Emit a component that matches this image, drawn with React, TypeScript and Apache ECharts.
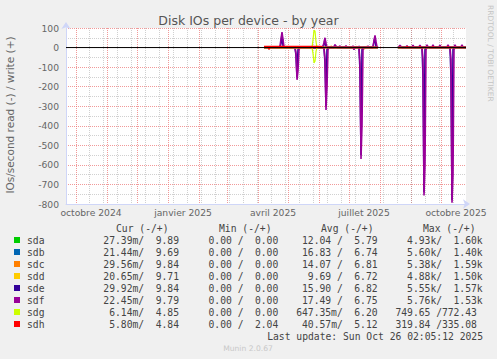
import React, { useEffect, useRef } from "react";
import * as echarts from "echarts";

const DAY_MS = 86400000;
const START = Date.parse("2024-09-21");
const END = START + 400 * DAY_MS;

const devices = ["sda", "sdb", "sdc", "sdd", "sde", "sdf", "sdg", "sdh"];
const deviceColors = ["#00CC00", "#0066B3", "#FF8000", "#FFCC00", "#330099", "#990099", "#CCFF00", "#FF0000"];

// Points: [days since 2024-09-21, IOs/second]; null = no data (line break)
const sdaWrite = [[198, 1], [255, 1], [268, 1], [269, 6], [271, 1], [286, 1], [287, 5], [289, 1], [312, 1], [313, null], [332, 1], [346, 1], [347, 5], [349, 1], [373, 1], [374, 5], [376, 1], [400, 1]];
const sdaRead = [[198, 0], [312, 0], [313, null], [332, 0], [400, 0]];
const sdbWrite = [[198, 1], [255, 1], [273, 1], [274, 5], [276, 1], [292, 1], [293, 6], [295, 1], [312, 1], [313, null], [332, 1], [340, 1], [341, 6], [343, 1], [360, 1], [361, 6], [363, 1], [381, 1], [382, 6], [384, 1], [400, 1]];
const sdbRead = [[198, 0], [312, 0], [313, null], [332, 0], [400, 0]];
const sdcWrite = [[198, 1], [255, 1], [264, 1], [265, 8], [267, 1], [279, 1], [280, 6], [282, 1], [299, 1], [300, 6], [302, 1], [312, 1], [313, null], [332, 1], [353, 1], [354, 7], [356, 1], [388, 1], [389, 7], [391, 1], [400, 1]];
const sdcRead = [[198, 0], [297, 0], [298, 8], [299, 0], [312, 0], [313, null], [332, 0], [400, 0]];
const sddWrite = [[198, 1], [255, 1], [261, 1], [262, 6], [264, 1], [289, 1], [290, 6], [292, 1], [312, 1], [313, null], [332, 1], [366, 1], [367, 6], [369, 1], [395, 1], [396, 6], [398, 1], [400, 1]];
const sddRead = [[198, 0], [312, 0], [313, null], [332, 0], [400, 0]];
const sdeWrite = [[198, 1], [214, 1], [215, 20], [216, 70], [217, 10], [218, 1], [257, 1], [258, 15], [259, 45], [260, 5], [262, 1], [268, 1], [269, 12], [271, 1], [307, 1], [308, 30], [309, 55], [310, 5], [312, 1], [313, null], [332, 1], [333, 2], [334, 8], [336, 1], [360, 1], [361, 8], [363, 1], [400, 1]];
const sdeRead = [[198, 0], [229, 0], [230, 40], [231, 150], [232, 10], [233, 0], [258, 0], [259, 80], [260, 300], [261, 10], [262, 0], [293, 0], [294, 120], [295, 550], [296, 10], [297, 0], [312, 0], [313, null], [332, 0], [356, 0], [357, 150], [358, 740], [359, 10], [360, 0], [384, 0], [385, 150], [386, 780], [387, 10], [388, 0], [400, 0]];
const sdfWrite = [[198, 1], [213, 1], [214, 8], [215, 45], [216, 79], [217, 40], [218, 4], [220, 1], [255, 1], [257, 8], [258, 25], [259, 50], [260, 20], [261, 3], [263, 1], [268, 4], [269, 15], [270, 5], [272, 1], [274, 8], [275, 2], [279, 3], [280, 10], [281, 2], [286, 2], [287, 8], [288, 2], [292, 2], [293, 6], [294, 1], [301, 2], [302, 7], [303, 2], [307, 4], [308, 35], [309, 62], [310, 30], [311, 4], [312, 1], [313, null], [332, 1], [333, 5], [334, 12], [335, 4], [336, 1], [340, 3], [341, 10], [342, 2], [346, 3], [347, 12], [348, 2], [353, 4], [354, 12], [355, 2], [360, 4], [361, 14], [362, 2], [366, 4], [367, 14], [368, 2], [373, 4], [374, 12], [375, 2], [381, 4], [382, 14], [383, 2], [388, 4], [389, 14], [390, 2], [395, 4], [396, 14], [397, 2], [400, 1]];
const sdfRead = [[198, 0], [229, 0], [230, 30], [231, 165], [232, 120], [233, 10], [234, 0], [258, 0], [259, 60], [260, 319], [261, 200], [262, 10], [263, 0], [287, 0], [288, 10], [289, 0], [293, 0], [294, 80], [295, 570], [296, 400], [297, 10], [298, 0], [312, 0], [313, null], [332, 0], [356, 0], [357, 60], [358, 757], [359, 600], [360, 10], [361, 0], [384, 0], [385, 60], [386, 793], [387, 650], [388, 10], [389, 0], [400, 0]];
const sdgWrite = [[198, 0], [246, 0], [247, 40], [248, 88], [249, 85], [250, 30], [251, 0], [255, 1], [312, 1], [313, null], [332, 1], [400, 1]];
const sdgRead = [[198, 0], [246, 0], [247, 30], [248, 78], [249, 70], [250, 20], [251, 0], [312, 0], [313, null], [332, 0], [400, 0]];
const sdhWrite = [[198, 6], [255, 6], [257, 0.5], [312, 0.5], [313, null], [332, 0.5], [340, 0.5], [341, 5], [343, 0.5], [353, 0.5], [354, 4], [356, 0.5], [366, 0.5], [367, 4], [369, 0.5], [381, 0.5], [382, 4], [384, 0.5], [400, 0.5]];
const sdhRead = [[198, 0], [202, 0], [203, 10], [204, 0], [312, 0], [313, null], [332, 0], [400, 0]];

const writeData = [sdaWrite, sdbWrite, sdcWrite, sddWrite, sdeWrite, sdfWrite, sdgWrite, sdhWrite];
const readData = [sdaRead, sdbRead, sdcRead, sddRead, sdeRead, sdfRead, sdgRead, sdhRead];

// Axis ticks / labels
const monthStarts = ["2024-10-01", "2024-11-01", "2024-12-01", "2025-01-01", "2025-02-01", "2025-03-01", "2025-04-01", "2025-05-01", "2025-06-01", "2025-07-01", "2025-08-01", "2025-09-01", "2025-10-01"];
const xLabelDates = ["2024-10-16", "2025-01-16", "2025-04-16", "2025-07-16", "2025-10-16"];
const xLabelTexts = ["octobre 2024", "janvier 2025", "avril 2025", "juillet 2025", "octobre 2025"];
const minorGridFirst = "2024-10-14";
const minorGridStepDays = 14;

// Legend table
const curRead = ["27.39m", "21.44m", "29.56m", "20.65m", "29.92m", "22.45m", "6.14m", "5.80m"];
const curWrite = ["9.89", "9.69", "9.84", "9.71", "9.84", "9.79", "4.85", "4.84"];
const minRead = ["0.00", "0.00", "0.00", "0.00", "0.00", "0.00", "0.00", "0.00"];
const minWrite = ["0.00", "0.00", "0.00", "0.00", "0.00", "0.00", "0.00", "2.04"];
const avgRead = ["12.04", "16.83", "14.07", "9.69", "15.90", "17.49", "647.35m", "40.57m"];
const avgWrite = ["5.79", "6.74", "6.81", "6.72", "6.82", "6.75", "6.20", "5.12"];
const maxRead = ["4.93k", "5.60k", "5.38k", "4.88k", "5.55k", "5.76k", "749.65", "319.84"];
const maxWrite = ["1.60k", "1.40k", "1.59k", "1.50k", "1.57k", "1.53k", "772.43", "335.08"];
const columnHeaders = ["Cur (-/+)", "Min (-/+)", "Avg (-/+)", "Max (-/+)"];
const lastUpdate = "Last update: Sun Oct 26 02:05:12 2025";

const toMs = (d: string) => Date.parse(d);
const monthStartsMs = monthStarts.map(toMs);
const xLabelMs = xLabelDates.map(toMs);
const minorGridMs: number[] = [];
for (let t = toMs(minorGridFirst); t < END; t += minorGridStepDays * DAY_MS) minorGridMs.push(t);

const MONO = '"DejaVu Sans Mono", monospace';
const SANS = '"DejaVu Sans", sans-serif';
const LEG_FONT = `9.7px ${MONO}`;
const LEG_COLOR = "#444";

function splitUnit(s: string): [string, string] {
  const last = s[s.length - 1];
  if (/[a-zA-Z]/.test(last)) return [s.slice(0, -1), last];
  return [s, ""];
}

function txt(text: string, x: number, y: number, font: string, fill: string, align = "left", extra: any = {}) {
  return {
    type: "text",
    x,
    y,
    silent: true,
    ...extra,
    style: { text, font, fill, textAlign: align, align, textVerticalAlign: "middle", verticalAlign: "middle" },
  };
}

function buildGraphic() {
  const g: any[] = [];
  g.push(txt("Disk IOs per device - by year", 248.5, 20, `12.5px ${SANS}`, "#555", "center"));
  g.push(txt("IOs/second read (-) / write (+)", 10, 115, `10.5px ${SANS}`, "#666", "center", { rotation: Math.PI / 2 }));
  g.push(txt("RRDTOOL / TOBI OETIKER", 490, 5, `7.5px ${SANS}`, "#C4C4C4", "left", { rotation: -Math.PI / 2 }));
  const headerX = [116, 219, 321, 423];
  columnHeaders.forEach((h, i) => g.push(txt(h, headerX[i], 228, LEG_FONT, LEG_COLOR)));
  const cols = [
    [curRead, curWrite],
    [minRead, minWrite],
    [avgRead, avgWrite],
    [maxRead, maxWrite],
  ];
  const cw = 5.8;
  devices.forEach((d, r) => {
    const y = 240 + r * 12;
    g.push({ type: "rect", silent: true, shape: { x: 14, y: y - 3, width: 6, height: 6 }, style: { fill: deviceColors[r] } });
    g.push(txt(d, 27, y, LEG_FONT, LEG_COLOR));
    cols.forEach(([rd, wr], c) => {
      const writeEnd = 179 + 99.3 * c;
      const readEnd = writeEnd - 6 * cw;
      const [rn, ru] = splitUnit(rd[r]);
      const [wn, wu] = splitUnit(wr[r]);
      g.push(txt(`${rn}${ru || " "}/`, readEnd, y, LEG_FONT, LEG_COLOR, "right"));
      g.push(txt(`${wn}${wu}`, writeEnd + (wu ? cw : 0), y, LEG_FONT, LEG_COLOR, "right"));
    });
  });
  g.push(txt(lastUpdate, 483, 336, LEG_FONT, LEG_COLOR, "right"));
  g.push(txt("Munin 2.0.67", 248, 348, `7.6px ${SANS}`, "#C8C8C8", "center"));
  return g;
}

function buildSeries() {
  const s: any[] = [];
  devices.forEach((d, i) => {
    const w = i === 4 || i === 5 ? 1.6 : 1.2;
    const common = {
      type: "line",
      showSymbol: false,
      symbol: "none",
      connectNulls: false,
      silent: true,
      color: deviceColors[i],
      lineStyle: { color: deviceColors[i], width: w },
      z: 3,
    };
    s.push({ ...common, name: d + " write", data: writeData[i].map(([t, v]) => [START + (t as number) * DAY_MS, v]) });
    s.push({ ...common, name: d + " read", data: readData[i].map(([t, v]) => [START + (t as number) * DAY_MS, v == null ? null : -(v as number)]) });
  });
  s.push({
    type: "line",
    name: "zero",
    showSymbol: false,
    symbol: "none",
    silent: true,
    data: [[START, 0], [END, 0]],
    lineStyle: { color: "#000", width: 1 },
    z: 4,
  });
  return s;
}

const gridRed = "rgba(235,110,110,0.7)";
const gridGrey = "rgba(150,150,150,0.45)";

export default function App() {
  const ref = useRef<HTMLDivElement>(null);
  useEffect(() => {
    const chart = echarts.init(ref.current!, null, { renderer: "svg" });
    chart.setOption({
      animation: false,
      backgroundColor: "#F0F0F0",
      grid: { left: 66, right: 31, top: 28, bottom: 155, show: true, backgroundColor: "#FFFFFF", borderWidth: 0 },
      xAxis: [
        {
          type: "value",
          min: START,
          max: END,
          position: "bottom",
          axisLine: {
            show: true,
            onZero: false,
            lineStyle: { color: "#CFD6F8", width: 1 },
            symbol: ["none", "arrow"],
            symbolSize: [7, 7],
            symbolOffset: [0, 4],
          },
          axisTick: { show: false, customValues: monthStartsMs },
          axisLabel: {
            customValues: xLabelMs,
            formatter: (v: number) => {
              const i = xLabelMs.findIndex((t) => Math.abs(t - v) < DAY_MS);
              return i >= 0 ? xLabelTexts[i] : "";
            },
            color: "#666",
            fontSize: 9.2,
            fontFamily: SANS,
            margin: 4,
            hideOverlap: false,
          },
          splitLine: { show: true, lineStyle: { color: gridRed, type: [1, 1], width: 1 } },
        },
        {
          type: "value",
          min: START,
          max: END,
          position: "bottom",
          axisLine: { show: false },
          axisTick: { show: false, customValues: minorGridMs },
          axisLabel: { show: false, customValues: minorGridMs },
          splitLine: { show: true, lineStyle: { color: gridGrey, type: [1, 1], width: 1 } },
        },
      ],
      yAxis: {
        type: "value",
        min: -800,
        max: 100,
        interval: 100,
        axisLine: {
          show: true,
          onZero: false,
          lineStyle: { color: "#CFD6F8", width: 1 },
          symbol: ["none", "arrow"],
          symbolSize: [7, 7],
          symbolOffset: [0, 6],
        },
        axisTick: { show: false },
        axisLabel: { color: "#666", fontSize: 9.2, fontFamily: SANS, margin: 7 },
        splitLine: { show: true, lineStyle: { color: gridRed, type: [1, 1], width: 1 } },
        minorTick: { show: false, splitNumber: 2 },
        minorSplitLine: { show: true, lineStyle: { color: gridGrey, type: [1, 1], width: 1 } },
      },
      series: buildSeries(),
      graphic: buildGraphic(),
    });
    return () => chart.dispose();
  }, []);
  return <div ref={ref} style={{ position: "fixed", left: 0, top: 0, width: 497, height: 359 }} />;
}
